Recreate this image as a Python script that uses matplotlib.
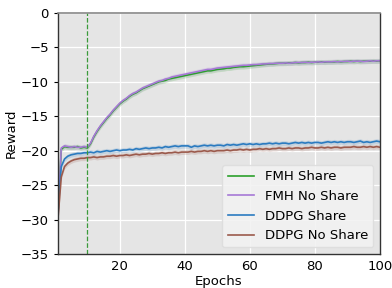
import numpy as np
import matplotlib
matplotlib.use("Agg")
import matplotlib.pyplot as plt

# epochs 1..100
epochs = np.arange(1, 101)

fmh_no_share = [
    -29.5, -19.6, -19.3, -19.4, -19.5, -19.4, -19.5, -19.5, -19.4, -19.5,
    -18.9, -17.9, -17.1, -16.4, -15.8, -15.2, -14.7, -14.1, -13.6, -13.1,
    -12.7, -12.4, -12.0, -11.7, -11.5, -11.2, -10.9, -10.7, -10.5, -10.3,
    -10.1, -9.9, -9.8, -9.6, -9.5, -9.3, -9.2, -9.1, -9.0, -8.9,
    -8.8, -8.7, -8.6, -8.5, -8.4, -8.3, -8.2, -8.2, -8.1, -8.0,
    -7.95, -7.9, -7.85, -7.8, -7.75, -7.7, -7.65, -7.6, -7.6, -7.55,
    -7.5, -7.5, -7.45, -7.4, -7.4, -7.35, -7.35, -7.3, -7.3, -7.3,
    -7.25, -7.3, -7.25, -7.2, -7.2, -7.2, -7.15, -7.2, -7.15, -7.15,
    -7.1, -7.15, -7.1, -7.1, -7.1, -7.05, -7.1, -7.05, -7.05, -7.0,
    -7.05, -7.0, -7.0, -7.0, -7.05, -7.0, -6.95, -7.0, -6.95, -6.95,
]

fmh_share = [
    -29.2, -19.8, -19.4, -19.5, -19.5, -19.5, -19.4, -19.6, -19.5, -19.6,
    -19.0, -18.0, -17.2, -16.5, -15.9, -15.3, -14.8, -14.2, -13.7, -13.2,
    -12.8, -12.5, -12.1, -11.8, -11.6, -11.3, -11.0, -10.8, -10.6, -10.4,
    -10.2, -10.0, -9.9, -9.8, -9.6, -9.5, -9.4, -9.3, -9.2, -9.1,
    -9.0, -8.9, -8.8, -8.7, -8.6, -8.5, -8.4, -8.4, -8.3, -8.2,
    -8.15, -8.1, -8.0, -8.0, -7.9, -7.85, -7.8, -7.8, -7.75, -7.7,
    -7.65, -7.6, -7.55, -7.5, -7.45, -7.4, -7.4, -7.35, -7.3, -7.3,
    -7.3, -7.25, -7.25, -7.2, -7.25, -7.2, -7.2, -7.15, -7.2, -7.15,
    -7.15, -7.1, -7.15, -7.1, -7.1, -7.1, -7.05, -7.1, -7.05, -7.05,
    -7.0, -7.05, -7.0, -7.05, -7.0, -7.0, -7.0, -6.95, -7.0, -6.95,
]

ddpg_share = [
    -29.0, -22.3, -21.2, -20.8, -20.6, -20.5, -20.4, -20.4, -20.3, -20.3,
    -20.2, -20.3, -20.1, -20.2, -20.1, -20.0, -20.1, -20.0, -19.9, -20.0,
    -19.9, -19.9, -19.8, -19.9, -19.7, -19.8, -19.7, -19.6, -19.7, -19.6,
    -19.6, -19.5, -19.6, -19.4, -19.5, -19.4, -19.3, -19.4, -19.3, -19.3,
    -19.3, -19.5, -19.3, -19.4, -19.3, -19.2, -19.3, -19.2, -19.3, -19.2,
    -19.2, -19.3, -19.1, -19.2, -19.1, -19.2, -19.1, -19.0, -19.1, -19.0,
    -19.1, -19.0, -19.1, -19.0, -19.0, -18.9, -19.0, -18.9, -19.0, -18.9,
    -18.9, -19.0, -18.9, -18.8, -18.9, -18.8, -18.9, -18.8, -18.9, -18.8,
    -18.8, -18.9, -18.8, -18.7, -18.8, -18.7, -18.8, -18.7, -18.8, -18.7,
    -18.7, -18.8, -18.7, -18.6, -18.8, -18.7, -18.8, -18.7, -18.6, -18.7,
]

ddpg_no_share = [
    -29.8, -23.8, -22.3, -21.8, -21.5, -21.3, -21.2, -21.1, -21.1, -21.0,
    -21.0, -20.9, -21.0, -20.9, -20.9, -20.8, -20.8, -20.7, -20.8, -20.7,
    -20.7, -20.6, -20.7, -20.6, -20.5, -20.6, -20.5, -20.5, -20.4, -20.5,
    -20.4, -20.4, -20.3, -20.4, -20.3, -20.3, -20.2, -20.3, -20.2, -20.2,
    -20.2, -20.1, -20.2, -20.1, -20.1, -20.0, -20.1, -20.0, -20.1, -20.0,
    -20.0, -20.0, -19.9, -20.0, -19.9, -19.9, -19.8, -19.9, -19.8, -19.9,
    -19.8, -19.8, -19.7, -19.8, -19.7, -19.8, -19.7, -19.7, -19.6, -19.7,
    -19.7, -19.6, -19.7, -19.6, -19.6, -19.7, -19.6, -19.6, -19.5, -19.6,
    -19.6, -19.5, -19.6, -19.5, -19.6, -19.5, -19.5, -19.6, -19.5, -19.5,
    -19.5, -19.4, -19.5, -19.5, -19.4, -19.5, -19.4, -19.5, -19.4, -19.5,
]

series = [
    ("FMH Share", fmh_share, "#2ca02c"),
    ("FMH No Share", fmh_no_share, "#a678d6"),
    ("DDPG Share", ddpg_share, "#2b7bc0"),
    ("DDPG No Share", ddpg_no_share, "#9b5a4c"),
]
share_start = 10
band = 0.35

plt.rcParams["font.family"] = "DejaVu Sans"
plt.rcParams["font.size"] = 9.5

fig = plt.figure(figsize=(3.92, 2.88), dpi=100)
ax = fig.add_axes([0.148, 0.118, 0.821, 0.837])
ax.set_facecolor("#e5e5e5")
ax.grid(True, color="white", linewidth=0.9)
ax.set_axisbelow(True)

for name, vals, col in series:
    v = np.array(vals)
    ax.fill_between(epochs, v - band, v + band, color=col, alpha=0.18, linewidth=0)
    ax.plot(epochs, v, color=col, linewidth=1.2, label=name)

ax.axvline(share_start, color="#3a9a3a", linestyle="--", linewidth=0.9)

ax.set_xlim(1, 100)
ax.set_ylim(-35, 0)
ax.set_xticks([20, 40, 60, 80, 100])
ax.set_yticks([0, -5, -10, -15, -20, -25, -30, -35])
ax.tick_params(axis="x", length=0, pad=4)
ax.tick_params(axis="y", length=3, width=0.8, colors="black")
ax.set_xlabel("Epochs", labelpad=1.5)
ax.set_ylabel("Reward", labelpad=2)

for side in ["left", "bottom", "right"]:
    ax.spines[side].set_color("#333333")
    ax.spines[side].set_linewidth(1.0)
ax.spines["top"].set_color("#888888")
ax.spines["top"].set_linewidth(1.2)

leg = ax.legend(loc="lower right", facecolor="#f2f2f2", edgecolor="#dddddd",
                framealpha=0.9, fontsize=9.5, borderaxespad=0.5,
                handlelength=2.0, labelspacing=0.5)

fig.savefig("out.png", dpi=100)
